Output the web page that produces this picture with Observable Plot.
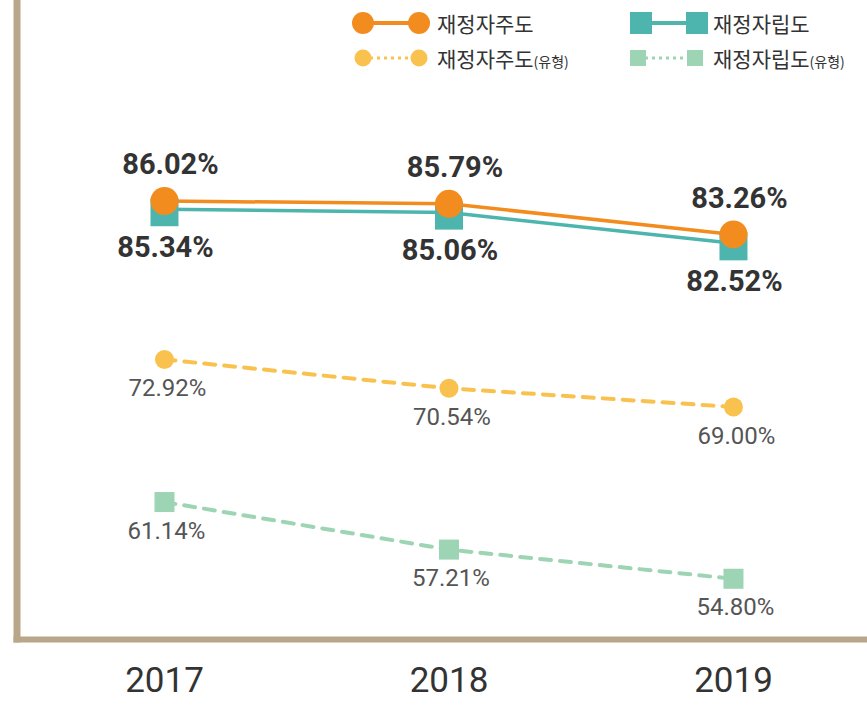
<!DOCTYPE html>
<html><head><meta charset="utf-8">
<script src="https://cdn.jsdelivr.net/npm/d3@7"></script>
<script src="https://cdn.jsdelivr.net/npm/@observablehq/plot@0.6"></script>
<style>
body{margin:0;background:#fff;}
#wrap{position:relative;width:867px;height:708px;}
#legend{position:absolute;left:352px;top:5px;display:grid;grid-template-columns:278px auto;grid-auto-rows:35px;font-family:"Noto Sans CJK KR",sans-serif;font-size:21px;color:#333;}
.item{display:flex;align-items:center;white-space:nowrap;}
.item svg{margin-right:5px;flex:none;}
.small{font-size:14px;}
</style></head>
<body><div id="wrap"><div id="chart"></div><div id="legend"></div></div>
<script>
// ---- data ----
const years = [2017, 2018, 2019];
const jaju = [86.02, 85.79, 83.26];          // 재정자주도
const jarip = [85.34, 85.06, 82.52];         // 재정자립도
const jajuType = [72.92, 70.54, 69.00];      // 재정자주도(유형)
const jaripType = [61.14, 57.21, 54.80];     // 재정자립도(유형)
const seriesNames = ["재정자주도", "재정자립도", "재정자주도", "재정자립도"];
const seriesSuffix = ["", "", "(유형)", "(유형)"];

// ---- styles ----
const C_ORANGE = "#f28c1f", C_TEAL = "#4db5ae", C_YEL = "#f9c24f", C_GREEN = "#9dd5b4", C_FRAME = "#b9a78a";

const rows = vals => years.map((year, i) => ({year, value: vals[i]}));
const rJaju = rows(jaju), rJarip = rows(jarip), rJajuT = rows(jajuType), rJaripT = rows(jaripType);

const xDomain = [2016.4236, 2019.4711];
const yDomain = [49.78, 102.59];
const xLeft = 2016.4816;
const fmt = d => d.value.toFixed(2) + "%";

const plot = Plot.plot({
  width: 867, height: 708,
  marginTop: 0, marginBottom: 69, marginLeft: 0, marginRight: 0,
  style: {fontFamily: "Roboto, 'Noto Sans CJK KR', sans-serif", background: "#fff", overflow: "visible"},
  x: {domain: xDomain, axis: null},
  y: {domain: yDomain, axis: null},
  marks: [
    Plot.ruleY([{y: yDomain[0], x1: xLeft, x2: xDomain[1]}], {y: "y", x1: "x1", x2: "x2", stroke: C_FRAME, strokeWidth: 6, strokeLinecap: "square"}),
    Plot.ruleX([{x: xLeft, y1: yDomain[0], y2: yDomain[1]}], {x: "x", y1: "y1", y2: "y2", stroke: C_FRAME, strokeWidth: 7, strokeLinecap: "square"}),
    Plot.axisX({ticks: years, tickFormat: d => String(d), tickSize: 0, tickPadding: 28, fontSize: 35, fill: "#333", label: null}),
    Plot.line(rJaripT, {x: "year", y: "value", stroke: C_GREEN, strokeWidth: 4, strokeDasharray: "11,9"}),
    Plot.line(rJajuT, {x: "year", y: "value", stroke: C_YEL, strokeWidth: 4, strokeDasharray: "11,9"}),
    Plot.dot(rJaripT, {x: "year", y: "value", symbol: "square", r: 11.3, fill: C_GREEN, stroke: null}),
    Plot.dot(rJajuT, {x: "year", y: "value", symbol: "circle", r: 9.5, fill: C_YEL, stroke: null}),
    Plot.line(rJarip, {x: "year", y: "value", stroke: C_TEAL, strokeWidth: 3.5}),
    Plot.line(rJaju, {x: "year", y: "value", stroke: C_ORANGE, strokeWidth: 3.5}),
    Plot.dot(rJarip, {x: "year", y: "value", symbol: "square", r: 15.8, fill: C_TEAL, stroke: null, dy: 3}),
    Plot.dot(rJaju, {x: "year", y: "value", symbol: "circle", r: 14, fill: C_ORANGE, stroke: null}),
    Plot.text(rJaju, {x: "year", y: "value", text: fmt, dx: 6, dy: -36, fontSize: 29, fontWeight: "bold", fill: "#333"}),
    Plot.text(rJarip, {x: "year", y: "value", text: fmt, dx: 1, dy: 38, fontSize: 29, fontWeight: "bold", fill: "#333"}),
    Plot.text(rJajuT, {x: "year", y: "value", text: fmt, dx: 3, dy: 29, fontSize: 24, fill: "#555"}),
    Plot.text(rJaripT, {x: "year", y: "value", text: fmt, dx: 2, dy: 29, fontSize: 24, fill: "#555"})
  ]
});
document.getElementById("chart").append(plot);

// ---- legend ----
const legendSpec = [
  {color: C_ORANGE, shape: "circle", size: 11, dash: null, w: 80},
  {color: C_TEAL, shape: "square", size: 22, dash: null, w: 78},
  {color: C_YEL, shape: "circle", size: 8.5, dash: "3,4", w: 80},
  {color: C_GREEN, shape: "square", size: 16, dash: "3,4", w: 78}
];
const legend = d3.select("#legend");
legendSpec.forEach((s, i) => {
  const item = legend.append("div").attr("class", "item");
  const h = 26, cy = h / 2;
  const svg = item.append("svg").attr("width", s.w).attr("height", h);
  let c1, c2;
  if (s.shape === "circle") { c1 = 11; c2 = s.w - 13; } else { c1 = s.size / 2; c2 = s.w - s.size / 2 - (s.size < 20 ? 5 : 0); }
  svg.append("line").attr("x1", c1).attr("x2", c2).attr("y1", cy).attr("y2", cy)
    .attr("stroke", s.color).attr("stroke-width", s.dash ? 3 : 4).attr("stroke-dasharray", s.dash);
  [c1, c2].forEach(cx => {
    if (s.shape === "circle") svg.append("circle").attr("cx", cx).attr("cy", cy).attr("r", s.size).attr("fill", s.color);
    else svg.append("rect").attr("x", cx - s.size / 2).attr("y", cy - s.size / 2).attr("width", s.size).attr("height", s.size).attr("fill", s.color);
  });
  const span = item.append("span").text(seriesNames[i]);
  if (seriesSuffix[i]) span.append("span").attr("class", "small").text(seriesSuffix[i]);
});
</script>
</body></html>
